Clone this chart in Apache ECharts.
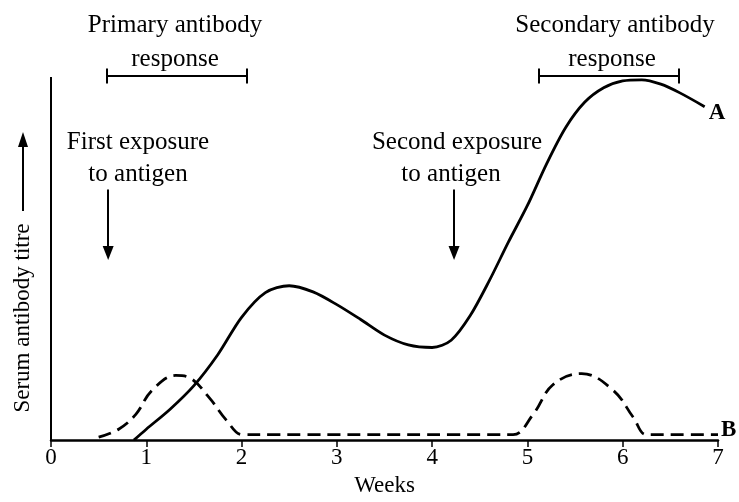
<!DOCTYPE html>
<html>
<head>
<meta charset="utf-8">
<script src="https://cdn.jsdelivr.net/npm/echarts@6/dist/echarts.min.js"></script>
<style>html,body{margin:0;padding:0;background:#fff}#c{width:739px;height:502px}</style>
</head>
<body>
<div id="c"></div>
<script>
// Curve A (solid): weeks and serum antibody titre (relative units, 0-100)
const weeksA = [0.87, 1.0, 1.25, 1.5, 1.75, 2.0, 2.25, 2.5, 2.75, 3.0, 3.25, 3.5, 3.75, 4.0, 4.2, 4.4, 4.6, 4.8, 5.0, 5.2, 5.4, 5.6, 5.8, 6.0, 6.2, 6.4, 6.6, 6.86];
const titreA = [0, 3, 8.5, 15, 23.5, 33.8, 40.6, 42.5, 40.8, 37.3, 33.2, 28.9, 26.2, 25.5, 27.5, 34.3, 43.9, 54.5, 64.6, 76, 86, 93, 97, 98.9, 99.2, 98, 95.6, 91.8];
// Curve B (dashed)
const weeksB = [0.5, 0.71, 0.89, 1.06, 1.31, 1.45, 1.66, 1.84, 2.01, 2.3, 4.6, 4.85, 5.06, 5.27, 5.57, 5.9, 6.11, 6.25, 6.5, 7.0];
const titreB = [0.8, 3.0, 7.1, 13.7, 17.8, 17.2, 11.7, 5.5, 1.5, 1.5, 1.5, 1.5, 7.1, 15.3, 18.3, 13.7, 6.3, 1.5, 1.5, 1.5];
// Exposure arrows (week) and response ranges (start week, end week)
const exposureWeeks = [0.6, 4.23];
const primaryRange = [0.59, 2.05];
const secondaryRange = [5.12, 6.59];
const xTicks = [0, 1, 2, 3, 4, 5, 6, 7];
const yTop = 100;

const serif = "'Liberation Serif', 'DejaVu Serif', serif";

function arrowLine(w) {
  return [{coord: [w, 69], symbol: 'none'}, {coord: [w, 51.5], symbol: 'triangle', symbolSize: [11, 14], symbolRotate: 180}];
}
function rangeLines(r) {
  return [
    [{coord: [r[0], 100.3], symbol: 'none'}, {coord: [r[1], 100.3], symbol: 'none'}],
    [{coord: [r[0], 102.3], symbol: 'none'}, {coord: [r[0], 98.2], symbol: 'none'}],
    [{coord: [r[1], 102.3], symbol: 'none'}, {coord: [r[1], 98.2], symbol: 'none'}]
  ];
}

const chart = echarts.init(document.getElementById('c'));
const option = {
  animation: false,
  backgroundColor: '#fff',
  grid: {left: 51, right: 21, top: 66, bottom: 58},
  xAxis: {
    type: 'value', min: 0, max: 7, interval: 1,
    axisLine: {show: true, lineStyle: {color: '#000', width: 2.5}},
    axisTick: {show: true, length: 7, inside: false, lineStyle: {color: '#000', width: 1.5}},
    axisLabel: {color: '#000', fontFamily: serif, fontSize: 23, margin: 6,
      formatter: v => xTicks.includes(v) ? String(v) : ''},
    splitLine: {show: false},
    name: 'Weeks', nameLocation: 'middle', nameGap: 32,
    nameTextStyle: {color: '#000', fontFamily: serif, fontSize: 23}
  },
  yAxis: {
    type: 'value', min: 0, max: 103,
    axisLine: {show: false},
    axisTick: {show: false}, axisLabel: {show: false}, splitLine: {show: false}
  },
  series: [
    {
      name: 'A', type: 'line', smooth: 0.3, symbol: 'none',
      data: weeksA.map((w, i) => [w, titreA[i]]),
      lineStyle: {color: '#000', width: 2.8},
      endLabel: {show: true, formatter: 'A', color: '#000', fontFamily: serif, fontWeight: 'bold', fontSize: 23, distance: 4, offset: [0, 6]},
      markLine: {
        silent: true, animation: false,
        label: {show: false},
        lineStyle: {color: '#000', width: 2, type: 'solid'},
        data: [
          [{coord: [0, 0], symbol: 'none'}, {coord: [0, yTop], symbol: 'none'}],
          arrowLine(exposureWeeks[0]), arrowLine(exposureWeeks[1])
        ].concat(rangeLines(primaryRange)).concat(rangeLines(secondaryRange))
      }
    },
    {
      name: 'B', type: 'line', smooth: 0.4, symbol: 'none',
      data: weeksB.map((w, i) => [w, titreB[i]]),
      lineStyle: {color: '#000', width: 2.8, type: [13, 7]},
      endLabel: {show: true, formatter: 'B', color: '#000', fontFamily: serif, fontWeight: 'bold', fontSize: 23, distance: 3, offset: [0, -5]}
    }
  ],
  graphic: [
    {type: 'text', x: 175, y: 25, style: {text: 'Primary antibody', font: '25px ' + serif, fill: '#000', textAlign: 'center', textVerticalAlign: 'middle', verticalAlign: 'middle'}},
    {type: 'text', x: 175, y: 59, style: {text: 'response', font: '25px ' + serif, fill: '#000', textAlign: 'center', textVerticalAlign: 'middle', verticalAlign: 'middle'}},
    {type: 'text', x: 615, y: 25, style: {text: 'Secondary antibody', font: '25px ' + serif, fill: '#000', textAlign: 'center', textVerticalAlign: 'middle', verticalAlign: 'middle'}},
    {type: 'text', x: 612, y: 59, style: {text: 'response', font: '25px ' + serif, fill: '#000', textAlign: 'center', textVerticalAlign: 'middle', verticalAlign: 'middle'}},
    {type: 'text', x: 138, y: 142, style: {text: 'First exposure', font: '25px ' + serif, fill: '#000', textAlign: 'center', textVerticalAlign: 'middle', verticalAlign: 'middle'}},
    {type: 'text', x: 138, y: 174, style: {text: 'to antigen', font: '25px ' + serif, fill: '#000', textAlign: 'center', textVerticalAlign: 'middle', verticalAlign: 'middle'}},
    {type: 'text', x: 457, y: 142, style: {text: 'Second exposure', font: '25px ' + serif, fill: '#000', textAlign: 'center', textVerticalAlign: 'middle', verticalAlign: 'middle'}},
    {type: 'text', x: 451, y: 174, style: {text: 'to antigen', font: '25px ' + serif, fill: '#000', textAlign: 'center', textVerticalAlign: 'middle', verticalAlign: 'middle'}},
    {type: 'text', x: 23, y: 318, rotation: Math.PI / 2, style: {text: 'Serum antibody titre', font: '23px ' + serif, fill: '#000', textAlign: 'center', textVerticalAlign: 'middle', verticalAlign: 'middle'}},
    {type: 'line', shape: {x1: 23, y1: 211, x2: 23, y2: 144}, style: {stroke: '#000', lineWidth: 2}},
    {type: 'polygon', shape: {points: [[23, 132], [18, 147], [28, 147]]}, style: {fill: '#000'}}
  ]
};
chart.setOption(option);
</script>
</body>
</html>
